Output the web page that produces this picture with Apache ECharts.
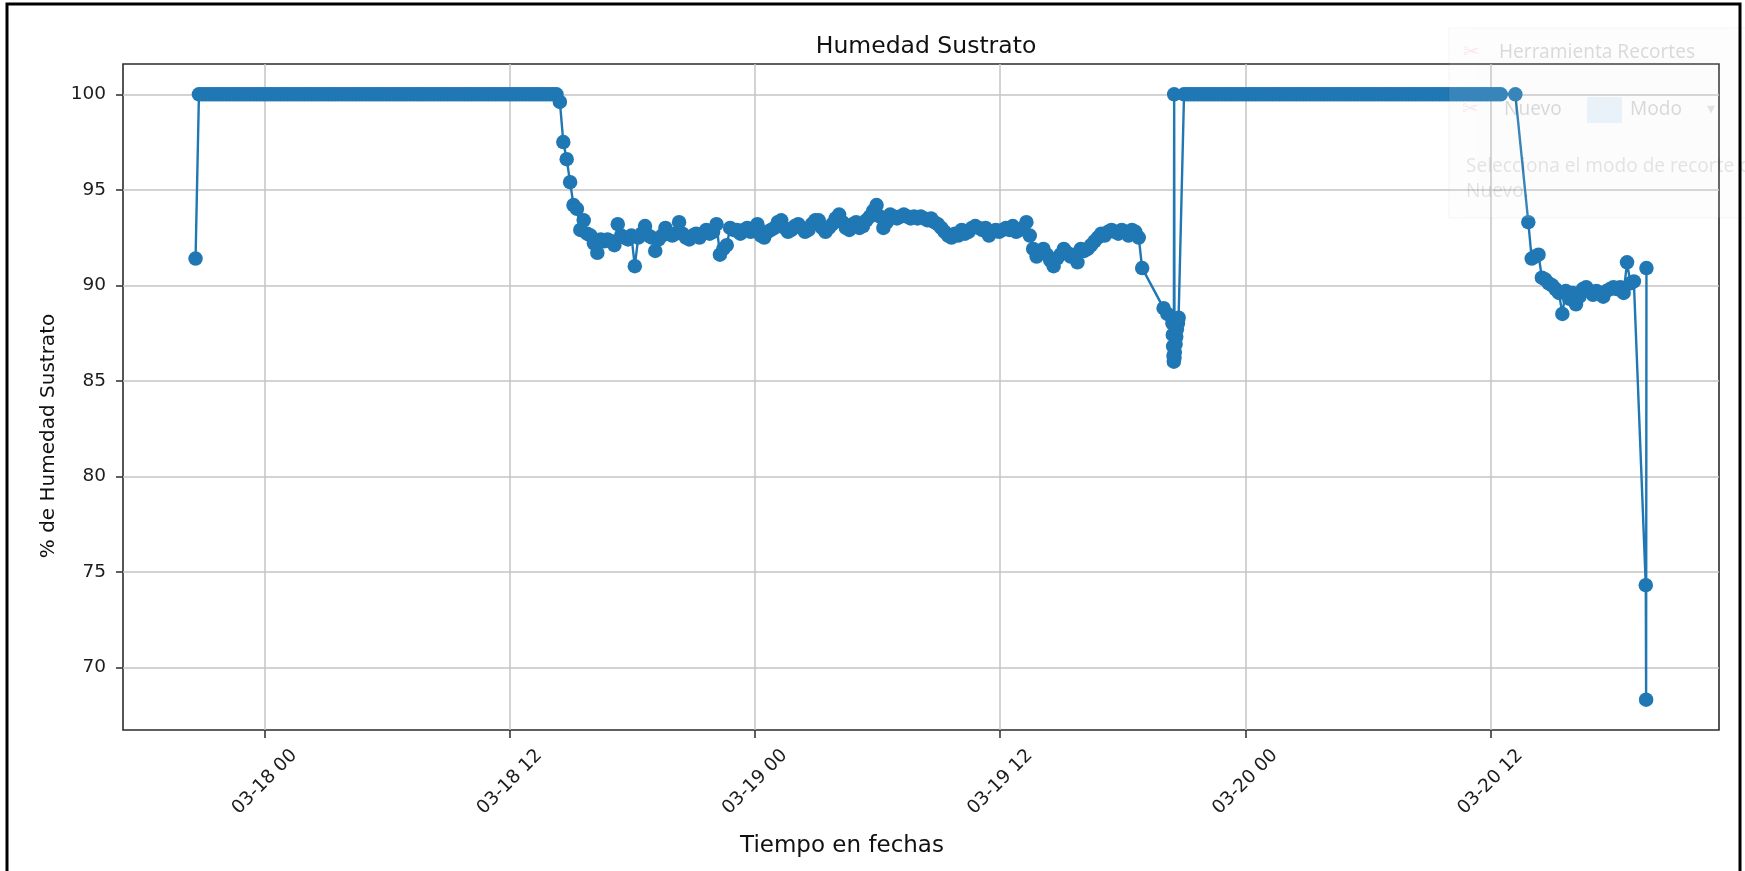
<!DOCTYPE html>
<html>
<head>
<meta charset="utf-8">
<title>Humedad Sustrato</title>
<script src="https://cdn.jsdelivr.net/npm/echarts@6/dist/echarts.min.js"></script>
<style>
  html, body { margin: 0; padding: 0; background: #ffffff; }
  #chart { width: 1745px; height: 871px; }
</style>
</head>
<body>
<div id="chart"></div>
<script>
// ---- text ----
const YEAR = 2024;
const TITLE = 'Humedad Sustrato';
const X_NAME = 'Tiempo en fechas';
const Y_NAME = '% de Humedad Sustrato';

// ---- axis ticks ----
const xTickLabels = ['03-18 00', '03-18 12', '03-19 00', '03-19 12', '03-20 00', '03-20 12'];
const yTickValues = [70, 75, 80, 85, 90, 95, 100];

// ---- sensor readings ----
// The logger writes one reading every 10 minutes; each block is a run without gaps.
const STEP_MIN = 10;

// Block 1: 03-17 20:37 -> 03-19 18:57
const block1Start = '03-17 20:37';
const block1 = [
  91.4,
  // saturated after watering, 20:47 -> 14:17
  100, 100, 100, 100, 100, 100, 100, 100, 100, 100,
  100, 100, 100, 100, 100, 100, 100, 100, 100, 100,
  100, 100, 100, 100, 100, 100, 100, 100, 100, 100,
  100, 100, 100, 100, 100, 100, 100, 100, 100, 100,
  100, 100, 100, 100, 100, 100, 100, 100, 100, 100,
  100, 100, 100, 100, 100, 100, 100, 100, 100, 100,
  100, 100, 100, 100, 100, 100, 100, 100, 100, 100,
  100, 100, 100, 100, 100, 100, 100, 100, 100, 100,
  100, 100, 100, 100, 100, 100, 100, 100, 100, 100,
  100, 100, 100, 100, 100, 100, 100, 100, 100, 100,
  100, 100, 100, 100, 100, 100,
  // 03-18 14:27 -> 14:57
  99.6, 97.5, 96.6, 95.4,
  // 03-18 15:07 -> 23:57
  94.2, 94.0, 92.9, 93.4, 92.7, 92.6,
  92.2, 91.7, 92.4, 92.3, 92.4, 92.3,
  92.1, 93.2, 92.6, 92.5, 92.4, 92.6,
  91.0, 92.5, 92.7, 93.1, 92.6, 92.5,
  91.8, 92.4, 92.6, 93.0, 92.7, 92.6,
  92.7, 93.3, 92.7, 92.5, 92.4, 92.6,
  92.7, 92.5, 92.7, 92.9, 92.7, 92.8,
  93.2, 91.6, 91.9, 92.1, 93.0, 92.9,
  92.9, 92.7, 92.9, 93.0, 92.8, 93.0,
  // 03-19 00:07 -> 18:57
  93.2, 92.6, 92.5, 92.8, 92.9, 93.0,
  93.3, 93.4, 93.0, 92.8, 92.9, 93.1,
  93.2, 93.0, 92.8, 92.9, 93.2, 93.4,
  93.4, 93.0, 92.8, 93.0, 93.2, 93.5,
  93.7, 93.3, 93.0, 92.9, 93.2, 93.3,
  93.0, 93.1, 93.4, 93.6, 93.9, 94.2,
  93.6, 93.0, 93.3, 93.7, 93.6, 93.5,
  93.6, 93.7, 93.6, 93.5, 93.6, 93.5,
  93.6, 93.5, 93.4, 93.5, 93.3, 93.2,
  93.0, 92.8, 92.6, 92.5, 92.7, 92.6,
  92.9, 92.7, 92.8, 93.0, 93.1, 93.0,
  92.9, 93.0, 92.6, 92.8, 92.9, 92.8,
  92.9, 93.0, 92.9, 93.1, 92.8, 92.9,
  93.0, 93.3, 92.6, 91.9, 91.5, 91.7,
  91.9, 91.6, 91.3, 91.0, 91.4, 91.6,
  91.9, 91.7, 91.5, 91.6, 91.2, 91.9,
  91.8, 91.9, 92.1, 92.3, 92.5, 92.7,
  92.6, 92.8, 92.9, 92.8, 92.7, 92.9,
  92.8, 92.6, 92.9, 92.8, 92.5, 90.9
];

// Block 2: saturated again, 03-19 21:00 -> 03-20 12:30
const block2Start = '03-19 21:00';
const block2 = [
  100, 100, 100, 100, 100, 100, 100, 100, 100, 100,
  100, 100, 100, 100, 100, 100, 100, 100, 100, 100,
  100, 100, 100, 100, 100, 100, 100, 100, 100, 100,
  100, 100, 100, 100, 100, 100, 100, 100, 100, 100,
  100, 100, 100, 100, 100, 100, 100, 100, 100, 100,
  100, 100, 100, 100, 100, 100, 100, 100, 100, 100,
  100, 100, 100, 100, 100, 100, 100, 100, 100, 100,
  100, 100, 100, 100, 100, 100, 100, 100, 100, 100,
  100, 100, 100, 100, 100, 100, 100, 100, 100, 100,
  100, 100, 100, 100
];

// Block 3: drying out, 03-20 13:51 -> 19:01
const block3Start = '03-20 13:51';
const block3 = [
  93.3, 91.4, 91.5, 91.6, 90.4, 90.3, 90.1, 90.0, 89.8, 89.6,
  88.5, 89.7, 89.3, 89.6, 89.0, 89.4, 89.8, 89.9, 89.7, 89.5,
  89.7, 89.6, 89.4, 89.7, 89.8, 89.9, 89.8, 89.9, 89.6, 91.2,
  90.1, 90.2
];

// Readings taken outside the regular interval (watering on 03-19, last readings 03-20)
const extraTimes = [
  '03-19 20:00', '03-19 20:11',
  '03-19 20:26', '03-19 20:27', '03-19 20:28', '03-19 20:29', '03-19 20:30',
  '03-19 20:31',
  '03-19 20:32', '03-19 20:33', '03-19 20:35', '03-19 20:37', '03-19 20:39',
  '03-19 20:42', '03-19 20:44',
  '03-20 13:13',
  '03-20 19:36', '03-20 19:37', '03-20 19:38'
];
const extraValues = [
  88.8, 88.5,
  88.0, 87.4, 86.8, 86.3, 86.0,
  100,
  86.2, 86.5, 86.9, 87.3, 87.7,
  88.0, 88.3,
  100,
  74.3, 68.3, 90.9
];

// ---- helpers ----
function toTime(s) {
  const [md, hm] = s.split(' ');
  const [mo, d] = md.split('-').map(Number);
  const [h, mi = 0] = hm.split(':').map(Number);
  return new Date(YEAR, mo - 1, d, h, mi).getTime();
}
function pad(n) { return String(n).padStart(2, '0'); }
function fmtTick(v) {
  const d = new Date(v);
  return pad(d.getMonth() + 1) + '-' + pad(d.getDate()) + ' ' + pad(d.getHours());
}
function expand(start, values) {
  const t0 = toTime(start);
  return values.map((v, i) => [t0 + i * STEP_MIN * 60000, v]);
}

const points = []
  .concat(expand(block1Start, block1))
  .concat(expand(block2Start, block2))
  .concat(expand(block3Start, block3))
  .concat(extraTimes.map((t, i) => [toTime(t), extraValues[i]]))
  .sort((a, b) => a[0] - b[0]);

// 5 % margin around the data on both axes
const tMin = points[0][0], tMax = points[points.length - 1][0];
const vAll = points.map(p => p[1]);
const vMin = Math.min.apply(null, vAll), vMax = Math.max.apply(null, vAll);
const tPad = (tMax - tMin) * 0.05, vPad = (vMax - vMin) * 0.05;

const xTicks = xTickLabels.map(s => toTime(s + ':00'));

const FONT = 'DejaVu Sans';
const INK = '#1c1c1c';
const FRAME = '#2b2b2b';
const GRIDLINE = '#c4c4c4';
const BLUE = '#1f77b4';
const TICK_FONT = 18.5;

const chart = echarts.init(document.getElementById('chart'), null, { renderer: 'canvas' });

chart.setOption({
  animation: false,
  backgroundColor: '#ffffff',
  title: {
    text: TITLE,
    left: 921,
    top: 30,
    textAlign: 'center',
    textStyle: { fontFamily: FONT, fontSize: 23.5, fontWeight: 'normal', color: '#111111' }
  },
  grid: {
    left: 123, right: 26, top: 64, bottom: 141,
    show: true, borderColor: FRAME, borderWidth: 1.6, backgroundColor: 'transparent'
  },
  xAxis: {
    // time values in milliseconds
    type: 'value',
    min: tMin - tPad,
    max: tMax + tPad,
    name: X_NAME,
    nameLocation: 'middle',
    nameGap: 105,
    nameTextStyle: { fontFamily: FONT, fontSize: 23, color: '#111111', padding: [0, 158, 0, 0] },
    axisLine: { show: false },
    axisTick: { show: true, length: 8, customValues: xTicks, lineStyle: { color: FRAME, width: 1.5 } },
    axisLabel: {
      customValues: xTicks,
      formatter: fmtTick,
      rotate: 45,
      align: 'center',
      verticalAlign: 'middle',
      margin: 52,
      fontFamily: FONT, fontSize: TICK_FONT, color: INK
    },
    splitLine: { show: true, lineStyle: { color: GRIDLINE, width: 1.5 } }
  },
  yAxis: {
    type: 'value',
    min: vMin - vPad,
    max: vMax + vPad,
    name: Y_NAME,
    nameLocation: 'middle',
    nameGap: 64,
    nameTextStyle: { fontFamily: FONT, fontSize: 20, color: '#111111', padding: [0, 78, 0, 0] },
    axisLine: { show: false },
    axisTick: { show: true, length: 7, customValues: yTickValues, lineStyle: { color: FRAME, width: 1.5 } },
    axisLabel: {
      customValues: yTickValues,
      margin: 17,
      fontFamily: FONT, fontSize: TICK_FONT, color: INK
    },
    splitLine: { show: true, lineStyle: { color: GRIDLINE, width: 1.5 } }
  },
  series: [{
    name: TITLE,
    type: 'line',
    data: points,
    symbol: 'circle',
    symbolSize: 14.5,
    showSymbol: true,
    showAllSymbol: true,
    lineStyle: { color: BLUE, width: 2.4 },
    itemStyle: { color: BLUE, borderWidth: 0 },
    z: 3
  }],
  graphic: [
    // outer border of the capture
    { type: 'polyline', silent: true, z: 10,
      shape: { points: [[7, 871], [7, 4], [1740, 4], [1740, 871]] },
      style: { stroke: '#000000', lineWidth: 3, fill: null } },
    // faded snipping-tool window over the top right corner
    { type: 'rect', silent: true, z: 9,
      shape: { x: 1449, y: 28, width: 300, height: 190 },
      style: { fill: 'rgba(250,250,250,0.12)', stroke: 'rgba(0,0,0,0.04)', lineWidth: 1,
               shadowBlur: 24, shadowColor: 'rgba(0,0,0,0.05)' } },
    { type: 'text', silent: true, z: 9, x: 1463, y: 53,
      style: { text: '\u2702', fontFamily: FONT, fontSize: 20, fill: 'rgba(214,80,90,0.12)', verticalAlign: 'middle' } },
    { type: 'text', silent: true, z: 9, x: 1499, y: 53,
      style: { text: 'Herramienta Recortes', fontFamily: 'Noto Sans', fontSize: 19, fill: 'rgba(0,0,0,0.14)', verticalAlign: 'middle' } },
    { type: 'text', silent: true, z: 9, x: 1462, y: 110,
      style: { text: '\u2702', fontFamily: FONT, fontSize: 20, fill: 'rgba(214,80,90,0.12)', verticalAlign: 'middle' } },
    { type: 'text', silent: true, z: 9, x: 1504, y: 110,
      style: { text: 'Nuevo', fontFamily: 'Noto Sans', fontSize: 19, fill: 'rgba(0,0,0,0.14)', verticalAlign: 'middle' } },
    { type: 'rect', silent: true, z: 9,
      shape: { x: 1587, y: 97, width: 35, height: 26 },
      style: { fill: 'rgba(0,120,215,0.07)' } },
    { type: 'text', silent: true, z: 9, x: 1630, y: 110,
      style: { text: 'Modo', fontFamily: 'Noto Sans', fontSize: 19, fill: 'rgba(0,0,0,0.14)', verticalAlign: 'middle' } },
    { type: 'text', silent: true, z: 9, x: 1707, y: 110,
      style: { text: '\u25BE', fontFamily: FONT, fontSize: 16, fill: 'rgba(0,0,0,0.10)', verticalAlign: 'middle' } },
    { type: 'text', silent: true, z: 9, x: 1466, y: 167,
      style: { text: 'Selecciona el modo de recorte o', fontFamily: 'Noto Sans', fontSize: 19, fill: 'rgba(0,0,0,0.10)', verticalAlign: 'middle' } },
    { type: 'text', silent: true, z: 9, x: 1466, y: 192,
      style: { text: 'Nuevo.', fontFamily: 'Noto Sans', fontSize: 19, fill: 'rgba(0,0,0,0.10)', verticalAlign: 'middle' } }
  ]
});
</script>
</body>
</html>
